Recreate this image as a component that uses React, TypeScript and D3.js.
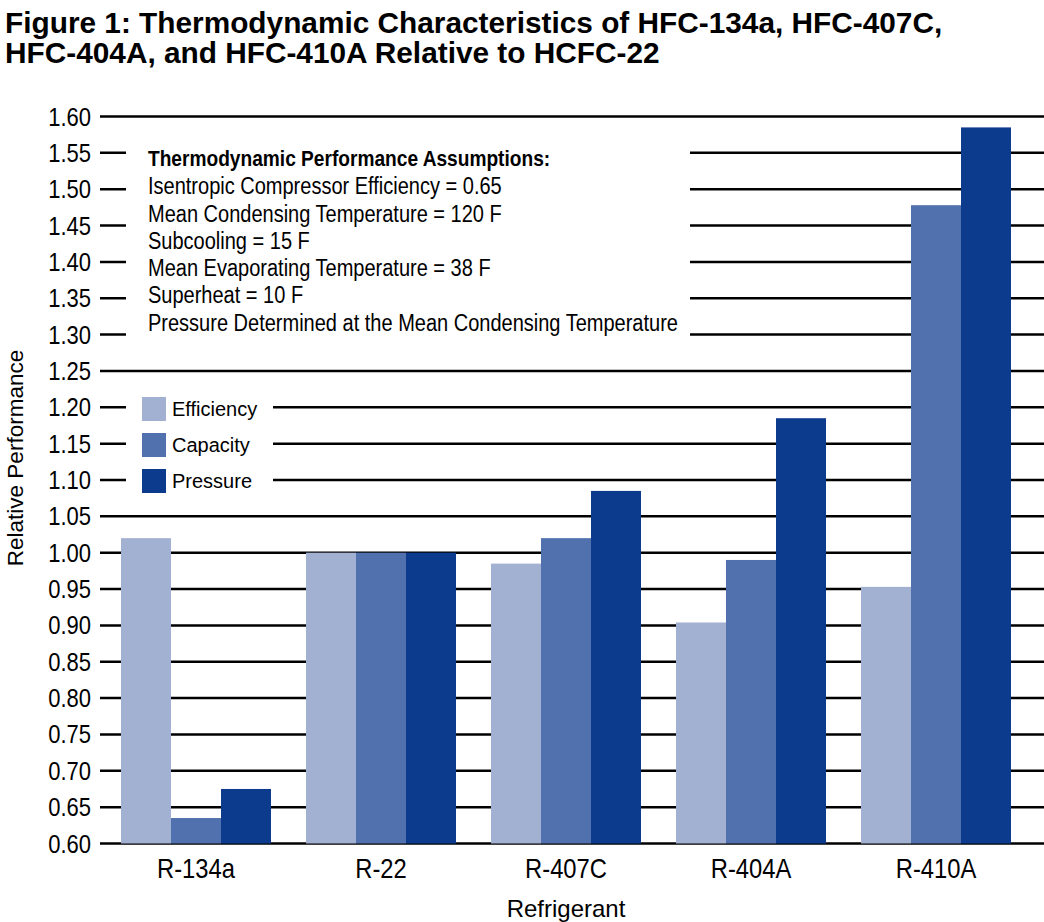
import React from "react";
import * as d3 from "d3";

const categories = ["R-134a", "R-22", "R-407C", "R-404A", "R-410A"];
const seriesNames = ["Efficiency", "Capacity", "Pressure"];
const efficiency = [1.02, 1.0, 0.985, 0.904, 0.953];
const capacity = [0.635, 1.0, 1.02, 0.99, 1.478];
const pressure = [0.675, 1.0, 1.085, 1.185, 1.585];
const yTicks = [0.6, 0.65, 0.7, 0.75, 0.8, 0.85, 0.9, 0.95, 1.0, 1.05, 1.1, 1.15, 1.2, 1.25, 1.3, 1.35, 1.4, 1.45, 1.5, 1.55, 1.6];
const colors = ["#A2B0D1", "#5070AE", "#0C3A8C"];
const titleLines = [
  "Figure 1: Thermodynamic Characteristics of HFC-134a, HFC-407C,",
  "HFC-404A, and HFC-410A Relative to HCFC-22",
];
const noteHeading = "Thermodynamic Performance Assumptions:";
const noteLines = [
  "Isentropic Compressor Efficiency = 0.65",
  "Mean Condensing Temperature = 120 F",
  "Subcooling = 15 F",
  "Mean Evaporating Temperature = 38 F",
  "Superheat = 10 F",
  "Pressure Determined at the Mean Condensing Temperature",
];

const W = 1044;
const H = 922;
const sans = "'Liberation Sans', Arial, Helvetica, sans-serif";

export default function App() {
  const series = [efficiency, capacity, pressure];
  const x = d3.scaleBand<string>().domain(categories).range([121, 1011]).paddingInner(35 / 185).paddingOuter(0);
  const xs = d3.scaleBand<number>().domain([0, 1, 2]).range([0, x.bandwidth()]).padding(0);
  const y = d3.scaleLinear().domain([0.6, 1.6]).range([843.5, 116.5]);
  const fmt = d3.format(".2f");

  return (
    <svg width={W} height={H} style={{ position: "absolute", left: 0, top: 0, background: "#fff" }}>
      <rect x={0} y={0} width={W} height={H} fill="#fff" />
      {titleLines.map((t, i) => (
        <text key={i} x={5} y={33 + i * 30} fontFamily={sans} fontWeight="bold" fontSize={29.8} fill="#000">
          {t}
        </text>
      ))}
      {/* gridlines */}
      {yTicks.map((v) => (
        <line key={v} x1={100} x2={W} y1={y(v)} y2={y(v)} stroke="#000" strokeWidth={2.5} />
      ))}
      {yTicks.map((v) => (
        <text key={"l" + v} transform={`translate(91,${y(v)}) scale(0.88,1)`} dy="0.36em" textAnchor="end" fontFamily={sans} fontSize={25} fill="#000">
          {fmt(v)}
        </text>
      ))}
      {/* bars */}
      {categories.map((c, ci) =>
        series.map((s, si) => (
          <rect
            key={c + si}
            x={(x(c) as number) + (xs(si) as number)}
            width={xs.bandwidth()}
            y={y(s[ci])}
            height={y(0.6) - y(s[ci])}
            fill={colors[si]}
          />
        ))
      )}
      {/* annotation box */}
      <rect x={126} y={136} width={564} height={206} fill="#fff" />
      <text transform="translate(148,158) scale(0.87,1)" dy="0.36em" fontFamily={sans} fontWeight="bold" fontSize={22} fill="#000">
        {noteHeading}
      </text>
      {noteLines.map((t, i) => (
        <text key={i} transform={`translate(148,${186 + i * 27.3}) scale(0.87,1)`} dy="0.36em" fontFamily={sans} fontSize={23} fill="#000">
          {t}
        </text>
      ))}
      {/* legend */}
      <rect x={126} y={390} width={147} height={110} fill="#fff" />
      {seriesNames.map((n, i) => (
        <g key={n}>
          <rect x={142} y={397 + i * 36} width={24} height={24} fill={colors[i]} />
          <text x={172} y={409 + i * 36} dy="0.36em" fontFamily={sans} fontSize={20} fill="#000">
            {n}
          </text>
        </g>
      ))}
      {/* x labels */}
      {categories.map((c) => (
        <text key={c} transform={`translate(${(x(c) as number) + x.bandwidth() / 2},868) scale(0.88,1)`} dy="0.36em" textAnchor="middle" fontFamily={sans} fontSize={27} fill="#000">
          {c}
        </text>
      ))}
      <text x={566} y={908} dy="0.36em" textAnchor="middle" fontFamily={sans} fontSize={24} fill="#000">
        Refrigerant
      </text>
      <text transform="translate(15,458) rotate(-90)" dy="0.36em" textAnchor="middle" fontFamily={sans} fontSize={22.5} fill="#000">
        Relative Performance
      </text>
    </svg>
  );
}
